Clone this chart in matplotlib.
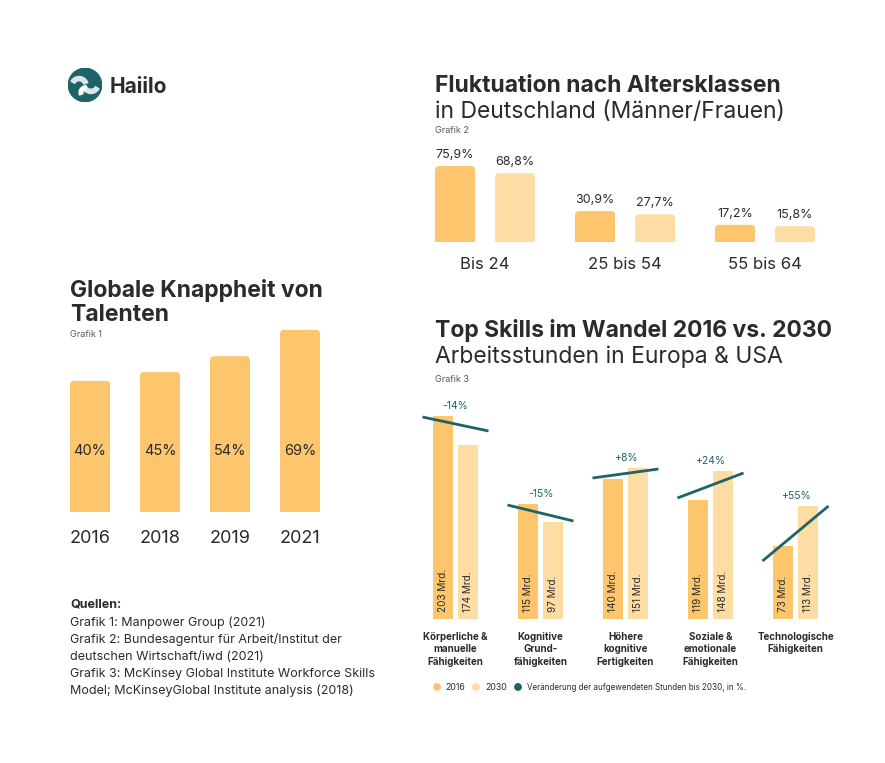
import matplotlib.pyplot as plt
from matplotlib.patches import Circle, Wedge, FancyBboxPatch
import numpy as np

plt.rcParams['font.family'] = ['Inter', 'DejaVu Sans']

W, H = 885, 763
fig = plt.figure(figsize=(W / 100, H / 100), dpi=100)

c_2016 = '#FDC56C'
c_2030 = '#FEDDA4'
c_teal = '#1D6468'
c_text = '#2B2B2B'
c_grey = '#555555'

# Grafik 1
talent_years = ['2016', '2018', '2019', '2021']
talent_pct = [40, 45, 54, 69]

# Grafik 2
age_groups = ['Bis 24', '25 bis 54', '55 bis 64']
men_pct = [75.9, 30.9, 17.2]
women_pct = [68.8, 27.7, 15.8]

# Grafik 3
skill_labels = ['Körperliche &\nmanuelle\nFähigkeiten',
                'Kognitive\nGrund-\nfähigkeiten',
                'Höhere\nkognitive\nFertigkeiten',
                'Soziale &\nemotionale\nFähigkeiten',
                'Technologische\nFähigkeiten']
hours_2016 = [203, 115, 140, 119, 73]
hours_2030 = [174, 97, 151, 148, 113]
change_pct = [-14, -15, 8, 24, 55]
trend_start = [202, 114, 141, 121, 58]
trend_end = [188, 98, 150, 146, 113]


def px_axes(x0, y0, x1, y1):
    ax = fig.add_axes([x0 / W, 1 - y1 / H, (x1 - x0) / W, (y1 - y0) / H])
    ax.set_facecolor('none')
    for s in ax.spines.values():
        s.set_visible(False)
    ax.tick_params(length=0)
    ax.set_yticks([])
    return ax


def ftext(x, y, s, **kw):
    kw.setdefault('color', c_text)
    kw.setdefault('va', 'baseline')
    fig.text(x / W, 1 - y / H, s, **kw)


def de_pct(v):
    return f'{v:.1f}'.replace('.', ',') + '%'


def round_tops(ax, bars, r_px=4):
    # swap plain bars for boxes with rounded top corners (bottom corners hidden below the axis)
    pos = ax.get_position()
    x0, x1 = ax.get_xlim()
    y0, y1 = ax.get_ylim()
    sx = pos.width * W / (x1 - x0)
    sy = pos.height * H / (y1 - y0)
    r = r_px / sx
    for b in bars:
        x, y, w, h = b.get_x(), b.get_y(), b.get_width(), b.get_height()
        ext = r_px / sy
        ax.add_patch(FancyBboxPatch((x, y - ext), w, h + ext,
                                    boxstyle=f'round,pad=0,rounding_size={r}',
                                    mutation_aspect=sx / sy,
                                    fc=b.get_facecolor(), ec='none'))
        b.remove()


# logo
lax = fig.add_axes([68 / W, 1 - 102 / H, 34 / W, 34 / H])
lax.set_xlim(-1, 1)
lax.set_ylim(-1, 1)
lax.set_aspect('equal')
lax.axis('off')
lax.add_patch(Circle((0, 0), 0.98, color=c_teal))
lax.add_patch(Wedge((0.35, 0.05), 0.55, 200, 330, width=0.25, color='#DDE6E6'))
lax.add_patch(Wedge((-0.35, -0.05), 0.55, 20, 150, width=0.25, color='#DDE6E6'))
lax.add_patch(Wedge((0.05, -0.45), 0.4, 90, 200, width=0.22, color='white'))
ftext(110, 93, 'Haiilo', fontsize=15, fontweight='bold')

# ---- Grafik 1 ----
ftext(70, 297, 'Globale Knappheit von', fontsize=16.5, fontweight='bold')
ftext(70, 321, 'Talenten', fontsize=16.5, fontweight='bold')
ftext(70, 337, 'Grafik 1', fontsize=6.5, color=c_grey)

base1 = -34.5
ax1 = px_axes(55, 320, 335, 512)
x1 = np.arange(len(talent_years))
ax1.set_xlim(-0.5, 3.5)
ax1.set_ylim(base1, base1 + 192 / 1.76)
bars1 = ax1.bar(x1, np.array(talent_pct) - base1, bottom=base1, width=40 / 70, color=c_2016)
round_tops(ax1, bars1)
for xi, v in zip(x1, talent_pct):
    ax1.text(xi, 0, f'{v}%', ha='center', va='center', fontsize=10.5, color=c_text)
ax1.set_xticks(x1, talent_years, fontsize=13, color=c_text)
ax1.tick_params(axis='x', pad=13, colors=c_text)

# ---- Grafik 2 ----
ftext(435, 92, 'Fluktuation nach Altersklassen', fontsize=16.5, fontweight='bold')
ftext(435, 118, 'in Deutschland (Männer/Frauen)', fontsize=16.5)
ftext(435, 133, 'Grafik 2', fontsize=6.5, color=c_grey)

ax2 = px_axes(420, 140, 830, 242)
x2 = np.arange(len(age_groups))
off2 = 60 / 140
ax2.set_xlim(-65 / 140, 345 / 140)
ax2.set_ylim(0, 102)
bars2a = ax2.bar(x2 - off2 / 2, men_pct, width=40 / 140, color=c_2016)
bars2b = ax2.bar(x2 + off2 / 2, women_pct, width=40 / 140, color=c_2030)
round_tops(ax2, bars2a)
round_tops(ax2, bars2b)
for xi, a, b in zip(x2, men_pct, women_pct):
    ax2.text(xi - off2 / 2, a + 5, de_pct(a), ha='center', va='bottom', fontsize=9, color=c_text)
    ax2.text(xi + off2 / 2, b + 5, de_pct(b), ha='center', va='bottom', fontsize=9, color=c_text)
ax2.set_xticks(x2, age_groups, fontsize=12)
ax2.tick_params(axis='x', pad=11, colors=c_text)

# ---- Grafik 3 ----
ftext(435, 337, 'Top Skills im Wandel 2016 vs. 2030', fontsize=16.5, fontweight='bold')
ftext(435, 363, 'Arbeitsstunden in Europa & USA', fontsize=16.5)
ftext(435, 382, 'Grafik 3', fontsize=6.5, color=c_grey)

ax3 = px_axes(415, 395, 840, 619)
x3 = np.arange(len(skill_labels))
off3 = 12.5 / 85
bw3 = 20 / 85
ax3.bar(x3 - off3, hours_2016, width=bw3, color=c_2016)
ax3.bar(x3 + off3, hours_2030, width=bw3, color=c_2030)
half = 33 / 85
for i, xi in enumerate(x3):
    for dx, v in ((-off3, hours_2016[i]), (off3, hours_2030[i])):
        ax3.text(xi + dx, 7, f'{v} Mrd.', rotation=90, ha='center', va='bottom',
                 fontsize=7.2, color=c_text)
    ax3.plot([xi - half, xi + half], [trend_start[i], trend_end[i]], color=c_teal, lw=2,
             solid_capstyle='butt')
    top = max(trend_start[i], trend_end[i], hours_2016[i], hours_2030[i])
    ax3.text(xi, top + 10, f'{change_pct[i]:+d}%', ha='center', va='center',
             fontsize=7.5, color=c_teal)
ax3.set_xlim(-40.5 / 85, 384.5 / 85)
ax3.set_ylim(0, 224)
ax3.set_xticks(x3, skill_labels, fontsize=7, fontweight='bold', linespacing=1.35)
ax3.tick_params(axis='x', pad=9, colors=c_text)

# legend
for cx, col in ((437, c_2016), (476, c_2030), (518, c_teal)):
    fig.patches.append(Circle((cx, H - 687), 3.2, color=col, transform=None))
ftext(445, 690, '2016', fontsize=6.3)
ftext(485, 690, '2030', fontsize=6.3)
ftext(527, 690, 'Veränderung der aufgewendeten Stunden bis 2030, in %.', fontsize=5.8)

# sources
ftext(70, 608, 'Quellen:', fontsize=9, fontweight='bold')
sources = ['Grafik 1: Manpower Group (2021)',
           'Grafik 2: Bundesagentur für Arbeit/Institut der',
           'deutschen Wirtschaft/iwd (2021)',
           'Grafik 3: McKinsey Global Institute Workforce Skills',
           'Model; McKinseyGlobal Institute analysis (2018)']
for k, line in enumerate(sources):
    ftext(70, 626 + 17 * k, line, fontsize=9)

fig.savefig('out.png', dpi=100, facecolor='white')
